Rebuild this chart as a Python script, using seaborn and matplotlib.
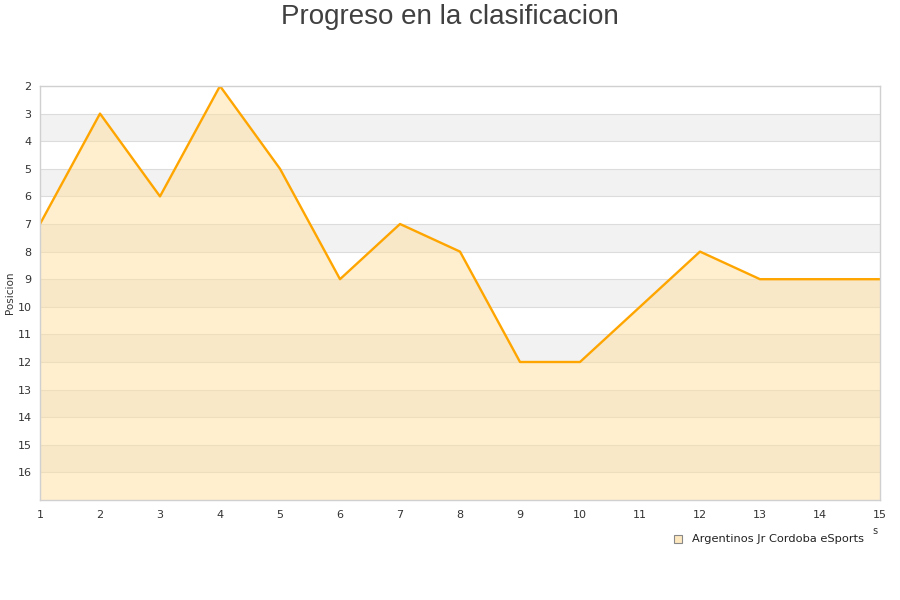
import numpy as np
import pandas as pd
import seaborn as sns
import matplotlib.pyplot as plt

jornadas = [1, 2, 3, 4, 5, 6, 7, 8, 9, 10, 11, 12, 13, 14, 15]
posicion = [7, 3, 6, 2, 5, 9, 7, 8, 12, 12, 10, 8, 9, 9, 9]
equipo = 'Argentinos Jr Cordoba eSports'
y_ticks = list(range(2, 17))

df = pd.DataFrame({'jornada': jornadas, 'posicion': posicion})

sns.set_style('white')
plt.rcParams['font.family'] = ['DejaVu Sans']

fig = plt.figure(figsize=(9, 6), dpi=100)
ax = fig.add_axes([40 / 900, 100 / 600, 840 / 900, 414 / 600])

# bandas alternas del fondo
for lo in range(3, 17, 2):
    ax.axhspan(lo, lo + 1, color='#f2f2f2', zorder=0, lw=0)
for y in range(3, 17):
    ax.axhline(y, color='#dcdcdc', lw=0.8, zorder=0.5)

ax.fill_between(df['jornada'], df['posicion'], 17, color='#ffe0a0', alpha=0.5,
                lw=0, zorder=1)
sns.lineplot(data=df, x='jornada', y='posicion', color='#ffa500', lw=1.7,
             ax=ax, zorder=2)

ax.set_xlim(1, 15)
ax.set_ylim(17, 2)
ax.set_xticks(jornadas)
ax.set_yticks(y_ticks)
ax.tick_params(labelsize=8, colors='#333333', length=0, pad=6)
ax.tick_params(axis='x', pad=7)
ax.set_xlabel('')
ax.set_ylabel('Posicion', fontsize=7.5, color='#333333', labelpad=2)
for s in ax.spines.values():
    s.set_color('#d0d0d0')
    s.set_linewidth(1)

fig.text(0.5, 1 - 17 / 600, 'Progreso en la clasificacion', ha='center', va='center',
         fontsize=20, color='#404040', family='Liberation Sans')
fig.text(875 / 900, 1 - 531 / 600, 's', ha='center', va='center',
         fontsize=7, color='#333333')

ax_leg_x = 678 / 900
fig.patches.append(plt.Rectangle((ax_leg_x - 4 / 900, 1 - 543 / 600), 8 / 900, 8 / 600,
                                 transform=fig.transFigure, facecolor='#fde8c0',
                                 edgecolor='#888888', lw=0.8))
fig.text(692 / 900, 1 - 539 / 600, equipo, ha='left', va='center',
         fontsize=8.2, color='#222222')

plt.savefig('out.png', dpi=100)
